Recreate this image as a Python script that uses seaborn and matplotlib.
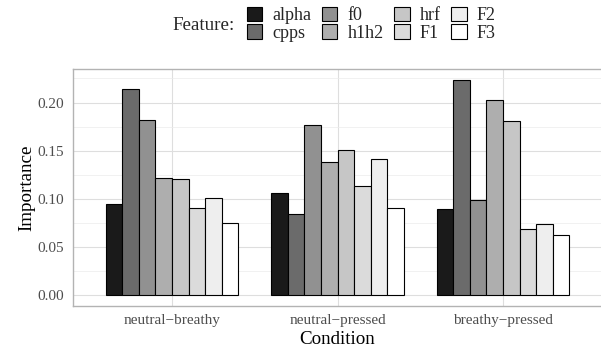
import numpy as np
import pandas as pd
import matplotlib
matplotlib.use("Agg")
import matplotlib.pyplot as plt
from matplotlib.patches import Patch
from matplotlib.ticker import MultipleLocator
import seaborn as sns

conditions = ["neutral\u2212breathy", "neutral\u2212pressed", "breathy\u2212pressed"]
features = ["alpha", "cpps", "f0", "h1h2", "hrf", "F1", "F2", "F3"]
neutral_breathy = [0.095, 0.214, 0.182, 0.122, 0.121, 0.091, 0.101, 0.075]
neutral_pressed = [0.106, 0.084, 0.177, 0.138, 0.151, 0.113, 0.141, 0.091]
breathy_pressed = [0.090, 0.223, 0.099, 0.203, 0.181, 0.069, 0.074, 0.063]
greys = ["#1a1a1a", "#6b6b6b", "#919191", "#aeaeae", "#c6c6c6", "#dbdbdb", "#eeeeee", "#ffffff"]

rows = []
for cond, vals in zip(conditions, [neutral_breathy, neutral_pressed, breathy_pressed]):
    for f, v in zip(features, vals):
        rows.append({"Condition": cond, "Feature": f, "Importance": v})
df = pd.DataFrame(rows)

sns.set_theme(style="white")
plt.rcParams["font.family"] = ["Liberation Serif", "DejaVu Serif"]

W, H = 601, 352
fig = plt.figure(figsize=(W / 100, H / 100), dpi=100)
ax = fig.add_axes([72.7 / W, 1 - 306 / H, 529.6 / W, (306 - 69.3) / H])

sns.barplot(data=df, x="Condition", y="Importance", hue="Feature",
            order=conditions, hue_order=features, palette=greys,
            edgecolor="black", linewidth=0.8, width=0.8, gap=0,
            ax=ax, legend=False, zorder=3)

ax.set_xlim(-0.6, 2.6)
ax.set_ylim(-0.0112, 0.2345)
ax.yaxis.set_minor_locator(MultipleLocator(0.025))
ax.set_yticks([0.0, 0.05, 0.10, 0.15, 0.20])
ax.set_yticklabels(["0.00", "0.05", "0.10", "0.15", "0.20"])
ax.grid(True, which="major", axis="both", color="#dedede", linewidth=0.8, zorder=0)
ax.grid(True, which="minor", axis="y", color="#ebebeb", linewidth=0.5, zorder=0)
ax.set_axisbelow(True)
for s in ax.spines.values():
    s.set_color("#b3b3b3")
    s.set_linewidth(1.0)
ax.tick_params(axis="both", which="major", length=3.5, width=0.8, color="#b3b3b3",
               labelcolor="#4d4d4d", labelsize=11, pad=2.5)
ax.tick_params(axis="both", which="minor", length=0)
ax.set_xlabel("Condition", fontsize=13.7, color="black", labelpad=3)
ax.set_ylabel("Importance", fontsize=13.7, color="black", labelpad=1.5)

handles = [Patch(facecolor=c, edgecolor="black", linewidth=0.8) for c in greys]
fig.text(204 / W, 1 - 25 / H, "Feature:", ha="center", va="center", fontsize=13.7)
leg = fig.legend(handles, features, ncol=4, loc="upper left",
                 bbox_to_anchor=(247 / W, 1 - 7 / H), frameon=False,
                 fontsize=13, handlelength=0.85, handleheight=0.85,
                 handletextpad=0.55, columnspacing=0.6, labelspacing=0.0,
                 borderpad=0, borderaxespad=0)

fig.savefig("out.png", dpi=100)
